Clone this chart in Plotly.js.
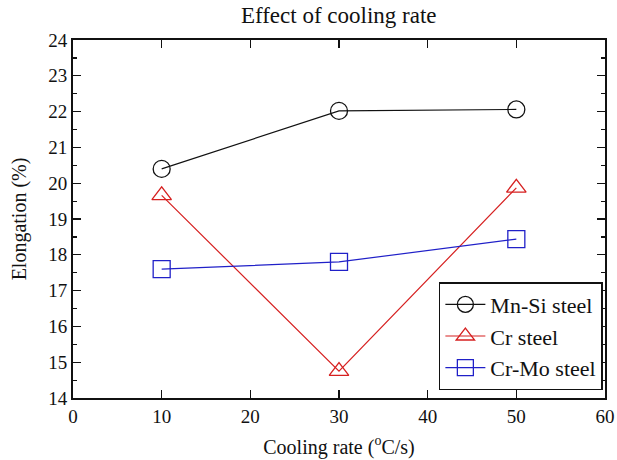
<!DOCTYPE html>
<html>
<head>
<meta charset="utf-8">
<script src="https://cdn.plot.ly/plotly-3.0.1.min.js"></script>
<style>html,body{margin:0;padding:0;background:#fff;}#chart{width:617px;height:460px;}</style>
</head>
<body>
<div id="chart"></div>
<script>
const coolingRate = [10, 30, 50];
const mnSiSteel = [20.4, 22.02, 22.06];
const crSteel = [19.66, 14.75, 19.87];
const crMoSteel = [17.6, 17.8, 18.44];
const seriesNames = ['Mn-Si steel', 'Cr steel', 'Cr-Mo steel'];

const font = 'Liberation Serif';
function tr(y, name, color, symbol) {
  return {
    x: coolingRate, y: y, name: name, type: 'scatter', mode: 'lines+markers',
    line: {color: color, width: 1.2},
    marker: {symbol: symbol, size: 17, color: color, line: {color: color, width: 1.3}}
  };
}
const data = [
  tr(mnSiSteel, seriesNames[0], '#111111', 'circle-open'),
  tr(crSteel, seriesNames[1], '#d62020', 'triangle-up-open'),
  tr(crMoSteel, seriesNames[2], '#2020c8', 'square-open')
];
const layout = {
  width: 617, height: 460,
  margin: {l: 73, r: 12, t: 40, b: 62},
  paper_bgcolor: '#fff', plot_bgcolor: '#fff',
  font: {family: font, color: '#111', size: 18},
  title: {text: 'Effect of cooling rate', font: {family: font, size: 23, color: '#111'}, x: 0.549, xanchor: 'center', y: 0.985, yanchor: 'top'},
  xaxis: {
    showline: true, linecolor: '#111', linewidth: 2, mirror: 'ticks',
    ticks: 'inside', ticklen: 8, tickwidth: 1.2, tickcolor: '#111',
    showgrid: false, zeroline: false,
    tickfont: {family: font, size: 19, color: '#111'},
    range: [0, 60], dtick: 10, tick0: 0,
    title: {text: 'Cooling rate (<sup>o</sup>C/s)', font: {family: font, size: 20, color: '#111'}, standoff: 14}
  },
  yaxis: {
    showline: true, linecolor: '#111', linewidth: 2, mirror: 'ticks',
    ticks: 'inside', ticklen: 8, tickwidth: 1.2, tickcolor: '#111',
    showgrid: false, zeroline: false,
    tickfont: {family: font, size: 19, color: '#111'},
    range: [14, 24], dtick: 1, tick0: 14,
    minor: {dtick: 0.5, ticks: 'inside', ticklen: 4, tickwidth: 1.2, tickcolor: '#111', showgrid: false},
    title: {text: 'Elongation (%)', font: {family: font, size: 20, color: '#111'}, standoff: 16}
  },
  showlegend: true,
  legend: {x: 0.996, xanchor: 'right', y: 0.022, yanchor: 'bottom',
    bgcolor: '#fff', bordercolor: '#111', borderwidth: 1.5,
    itemwidth: 40,
    font: {family: font, size: 22, color: '#111'}}
};
Plotly.newPlot('chart', data, layout, {displayModeBar: false, staticPlot: true});
</script>
</body>
</html>
